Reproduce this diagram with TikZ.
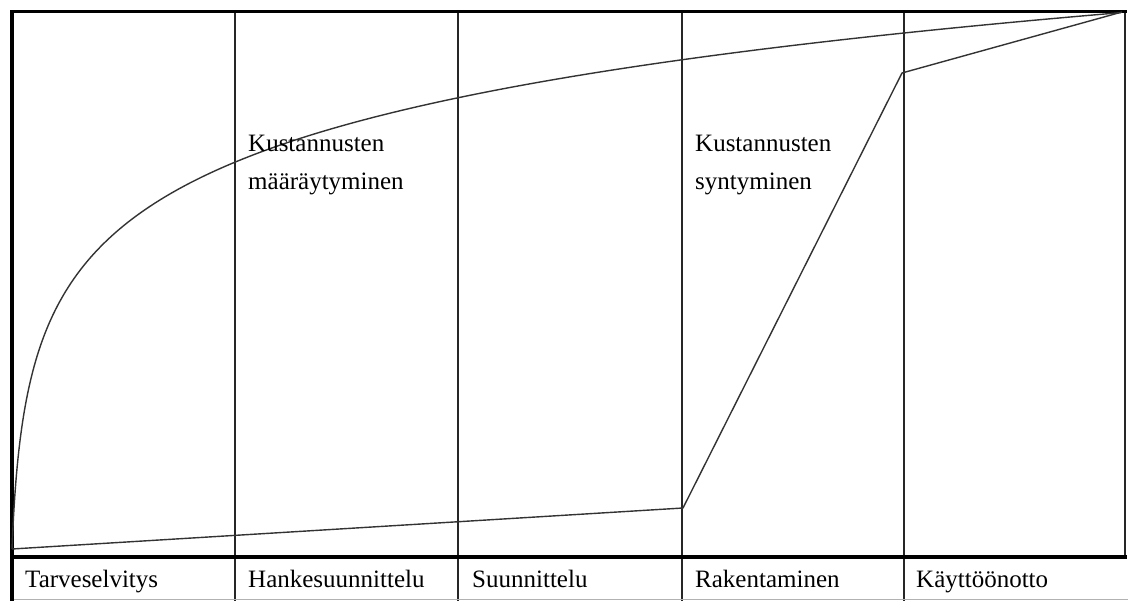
\documentclass[tikz,border=0pt]{standalone}
\usepackage{fontspec}
\setmainfont{Liberation Serif}
\begin{document}
\begin{tikzpicture}[x=1pt,y=-1pt,
  thin line/.style={line width=1.3pt,black!85},
  thick line/.style={line width=4pt,black},
  curve line/.style={line width=1.4pt,black!80,line join=round},
  lbl/.style={anchor=base west,inner sep=0pt,font=\fontsize{25}{38}\selectfont,text=black}]
\useasboundingbox (0,0) rectangle (1128,601);
% phase columns
\foreach \xx in {235,458,682,904}
  \draw[thin line] (\xx,11) -- (\xx,601);
\draw[line width=2pt,black!85] (1125,11) -- (1125,557);
\draw[black!30,line width=1pt] (10,599.5) -- (1128,599.5);
% frame
\draw[line width=4.5pt] (12,11.5) -- (12,601);
\draw[line width=3pt] (10,11.5) -- (1127,11.5);
\draw[thick line] (10,557) -- (1127,557);
% coordinates
\coordinate (o) at (12,549);
\coordinate (k1) at (683,508);
\coordinate (k2) at (902,73);
\coordinate (e) at (1122,12);
% cost incurrence line
\draw[curve line] (o) -- (k1) -- (k2) -- (e);
% cost determination curve
\draw[curve line] plot[smooth,domain=0:5.707,samples=160,variable=\t]
  ({12+3.7*(exp(\t)-1)},{549-94*\t});
% labels
\node[lbl] (t1) at (248,152) {Kustannusten};
\node[lbl] (t2) at (248,190) {määräytyminen};
\node[lbl] (t3) at (695,152) {Kustannusten};
\node[lbl] (t4) at (695,190) {syntyminen};
\node[lbl] (p1) at (25,587) {Tarveselvitys};
\node[lbl] (p2) at (248,587) {Hankesuunnittelu};
\node[lbl] (p3) at (472,587) {Suunnittelu};
\node[lbl] (p4) at (695,587) {Rakentaminen};
\node[lbl] (p5) at (916,587) {Käyttöönotto};
\end{tikzpicture}
\end{document}
